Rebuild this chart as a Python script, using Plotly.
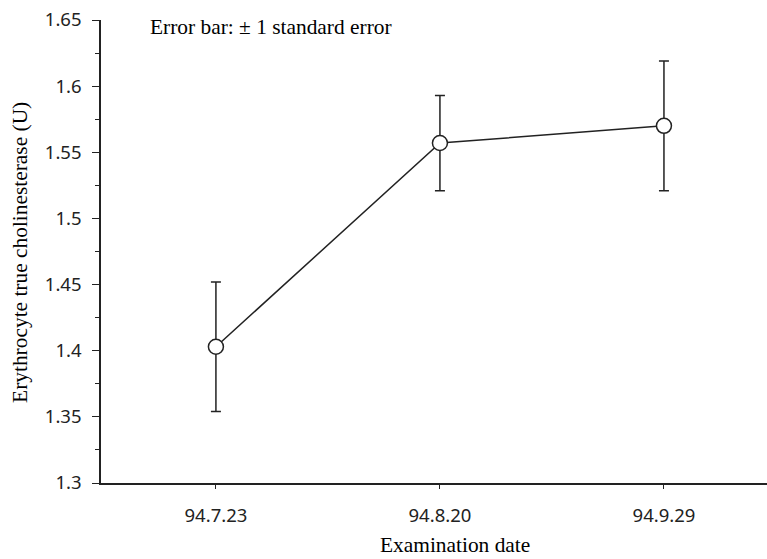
import plotly.graph_objects as go

# Examination dates and erythrocyte true cholinesterase (U), mean ± 1 SE
dates = ["94.7.23", "94.8.20", "94.9.29"]
means = [1.403, 1.557, 1.570]
std_err = [0.049, 0.036, 0.049]

ink = "#222222"
sans = "Noto Sans, DejaVu Sans, sans-serif"
serif = "Liberation Serif, Times New Roman, serif"

fig = go.Figure()
fig.add_trace(go.Scatter(
    x=dates,
    y=means,
    mode="lines+markers",
    line=dict(color=ink, width=1.5),
    marker=dict(size=15, color="white", line=dict(color=ink, width=1.5)),
    error_y=dict(type="data", array=std_err, visible=True,
                 color=ink, thickness=1.5, width=5),
    showlegend=False,
    cliponaxis=False,
))

fig.update_layout(
    width=767,
    height=559,
    margin=dict(l=101, r=0, t=20, b=76),
    paper_bgcolor="white",
    plot_bgcolor="white",
    xaxis=dict(
        type="category",
        categoryorder="array",
        categoryarray=dates,
        range=[-0.513, 2.46],
        showline=True,
        linecolor=ink,
        linewidth=1.5,
        showgrid=False,
        zeroline=False,
        ticks="outside",
        ticklen=4,
        tickwidth=1.2,
        tickcolor=ink,
        ticklabelstandoff=11,
        tickfont=dict(family=sans, size=18.5, color=ink),
    ),
    yaxis=dict(
        range=[1.3, 1.65],
        dtick=0.05,
        tick0=1.3,
        showline=True,
        linecolor=ink,
        linewidth=1.5,
        showgrid=False,
        zeroline=False,
        ticks="outside",
        ticklen=7,
        tickwidth=1.2,
        tickcolor=ink,
        ticklabelstandoff=7,
        tickfont=dict(family=sans, size=18.5, color=ink),
        minor=dict(dtick=0.025, tick0=1.3, ticks="outside", ticklen=4,
                   tickwidth=1.2, tickcolor=ink, showgrid=False),
    ),
    annotations=[
        dict(text="Error bar: ± 1 standard error", xref="paper", yref="paper",
             x=0.0706, y=0.985, xanchor="left", yanchor="middle",
             showarrow=False, font=dict(family=serif, size=21.4, color="black")),
        dict(text="Examination date", xref="paper", yref="paper",
             x=0.5315, y=-0.134, xanchor="center", yanchor="middle",
             showarrow=False, font=dict(family=serif, size=21.4, color="black")),
        dict(text="Erythrocyte true cholinesterase (U)", xref="paper", yref="paper",
             x=-0.1216, y=0.497, xanchor="center", yanchor="middle", textangle=-90,
             showarrow=False, font=dict(family=serif, size=21.4, color="black")),
    ],
)

fig.write_html("out.html")
